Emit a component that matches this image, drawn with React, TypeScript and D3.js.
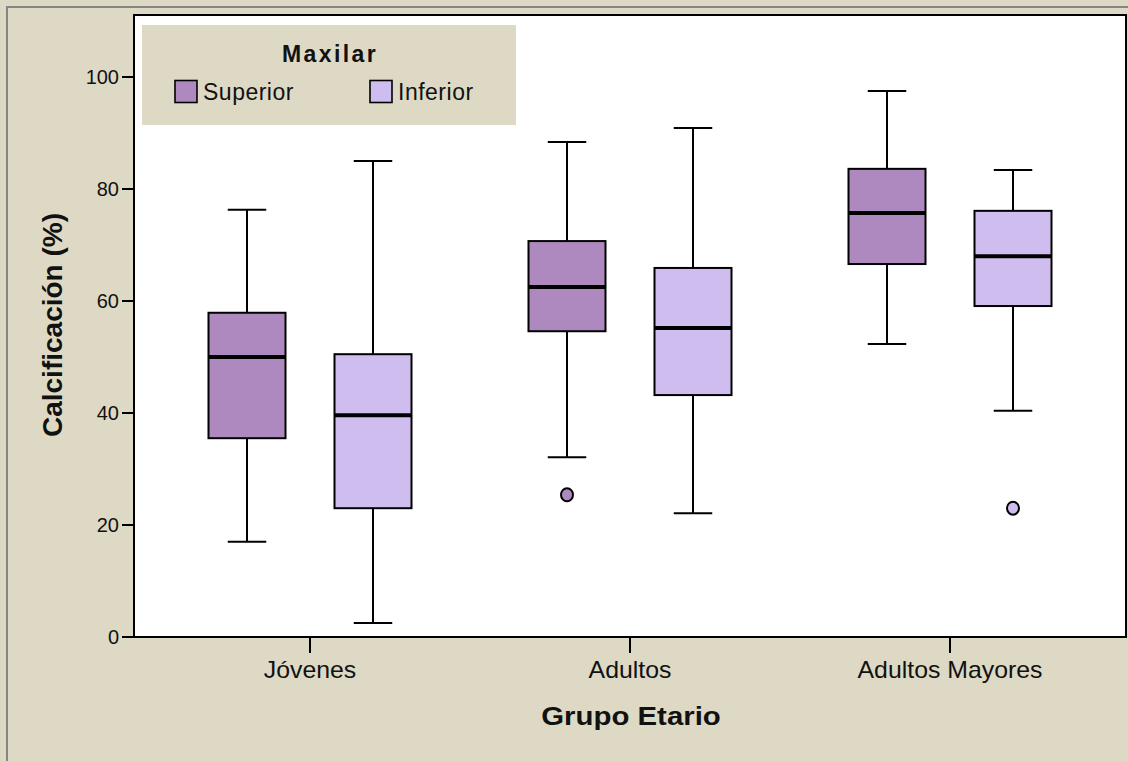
import React from "react";
import * as d3 from "d3";

const groups = ["Jóvenes", "Adultos", "Adultos Mayores"];
const series = ["Superior", "Inferior"];
const colors = ["#AD89C0", "#D0BDEF"];
// [whiskerLow, q1, median, q3, whiskerHigh] per group for each series
const superiorStats = [
  [17.0, 35.5, 50.0, 57.9, 76.3],
  [32.1, 54.6, 62.5, 70.7, 88.4],
  [52.3, 66.6, 75.7, 83.6, 97.5],
];
const inferiorStats = [
  [2.5, 23.0, 39.6, 50.5, 85.0],
  [22.1, 43.2, 55.2, 65.9, 90.9],
  [40.4, 59.1, 68.0, 76.1, 83.4],
];
const superiorOutliers = [[], [25.4], []];
const inferiorOutliers = [[], [], [23.0]];
const yTicks = [0, 20, 40, 60, 80, 100];

const W = 1128, H = 761;
const plot = { left: 134, top: 15, right: 1126, bottom: 637 };
const FONT = "'Liberation Sans', Arial, sans-serif";

export default function App() {
  const y = d3.scaleLinear().domain([0, 100]).range([plot.bottom, 77]);
  const x = d3.scaleBand<string>().domain(groups).range([150, 1110]);
  const bw = 77;
  const offset = 63;
  const allStats = [superiorStats, inferiorStats];
  const allOut = [superiorOutliers, inferiorOutliers];

  return (
    <svg width={W} height={H} style={{ position: "absolute", left: 0, top: 0 }} fontFamily={FONT}>
      <rect x={0} y={0} width={W} height={H} fill="#DDD9C5" />
      <rect x={7} y={7} width={W + 20} height={H + 20} fill="none" stroke="#858585" strokeWidth={2} />
      <rect x={plot.left} y={plot.top} width={plot.right - plot.left} height={plot.bottom - plot.top} fill="#fff" stroke="#000" strokeWidth={2} />
      {yTicks.map((t) => (
        <g key={t}>
          <line x1={plot.left - 12} x2={plot.left} y1={y(t)} y2={y(t)} stroke="#000" strokeWidth={2} />
          <text x={119} y={y(t)} dy="0.36em" textAnchor="end" fontSize={20} fill="#111">{t}</text>
        </g>
      ))}
      {groups.map((g) => {
        const cx = x(g)! + x.bandwidth() / 2;
        return (
          <g key={g}>
            <line x1={cx} x2={cx} y1={plot.bottom} y2={plot.bottom + 16} stroke="#000" strokeWidth={2} />
            <text transform={`translate(${cx},678) scale(1.08,1)`} textAnchor="middle" fontSize={23} fill="#111">{g}</text>
          </g>
        );
      })}
      {groups.map((g, gi) =>
        series.map((s, si) => {
          const [lo, q1, med, q3, hi] = allStats[si][gi];
          const cx = x(g)! + x.bandwidth() / 2 + (si === 0 ? -offset : offset);
          return (
            <g key={g + s}>
              <line x1={cx} x2={cx} y1={y(hi)} y2={y(q3)} stroke="#000" strokeWidth={2} />
              <line x1={cx} x2={cx} y1={y(q1)} y2={y(lo)} stroke="#000" strokeWidth={2} />
              <line x1={cx - bw / 4} x2={cx + bw / 4} y1={y(hi)} y2={y(hi)} stroke="#000" strokeWidth={2} />
              <line x1={cx - bw / 4} x2={cx + bw / 4} y1={y(lo)} y2={y(lo)} stroke="#000" strokeWidth={2} />
              <rect x={cx - bw / 2} y={y(q3)} width={bw} height={y(q1) - y(q3)} fill={colors[si]} stroke="#000" strokeWidth={2} />
              <line x1={cx - bw / 2} x2={cx + bw / 2} y1={y(med)} y2={y(med)} stroke="#000" strokeWidth={4} />
              {allOut[si][gi].map((o, oi) => (
                <ellipse key={oi} cx={cx} cy={y(o)} rx={6} ry={6.5} fill={colors[si]} stroke="#000" strokeWidth={2} />
              ))}
            </g>
          );
        })
      )}
      <text transform={`translate(62,325) rotate(-90)`} textAnchor="middle" fontSize={28} fontWeight="bold" fill="#111">Calcificación (%)</text>
      <text transform={`translate(631,725) scale(1.13,1)`} textAnchor="middle" fontSize={26} fontWeight="bold" fill="#111">Grupo Etario</text>
      <g>
        <rect x={142} y={25} width={374} height={100} fill="#DDD9C5" />
        <text x={330} y={62} textAnchor="middle" fontSize={23} fontWeight="bold" fill="#111" letterSpacing={2.4}>Maxilar</text>
        {series.map((s, si) => {
          const lx = si === 0 ? 175 : 370;
          return (
            <g key={s}>
              <rect x={lx} y={80.5} width={22} height={22} fill={colors[si]} stroke="#000" strokeWidth={1.6} />
              <text x={lx + 28} y={100} fontSize={23} fill="#111" letterSpacing={0.5}>{s}</text>
            </g>
          );
        })}
      </g>
    </svg>
  );
}
